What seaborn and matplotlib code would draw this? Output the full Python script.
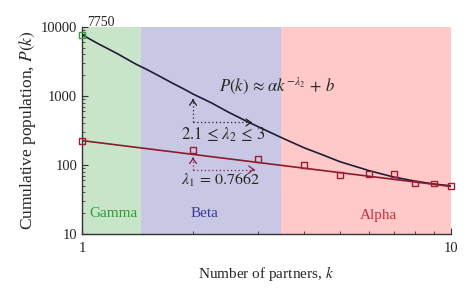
import matplotlib
matplotlib.use("Agg")
import matplotlib.pyplot as plt
import matplotlib.ticker as mticker
import seaborn as sns
import pandas as pd
import numpy as np

# ---- data ----
k_obs = [1, 2, 3, 4, 5, 6, 7, 8, 9, 10]
p_obs = [226, 167, 124, 99, 72, 74, 75, 54, 54, 49]
k_top = [1]
p_top = [7750]
# fitted power-law line (lambda1) endpoints
k_fit1 = [1, 10]
p_fit1 = [226, 49]
# curve P(k) ~ a k^-l2 + b read at points
k_fit2 = [1, 1.05, 1.1, 1.175, 1.25, 1.325, 1.4, 1.5, 1.625, 1.75, 1.875, 2, 2.25, 2.5, 2.75, 3, 3.5, 4, 4.5, 5, 6, 7, 8, 9, 10]
p_fit2 = [7750, 6700, 5820, 4850, 4080, 3420, 2900, 2420, 1930, 1560, 1290, 1070, 790, 580, 450, 360, 245, 178, 140, 112, 83, 67, 58.5, 53, 50]
regions = ["Gamma", "Beta", "Alpha"]
region_bounds = [(1, 1.445), (1.445, 3.46), (3.46, 10)]
region_colors = ["#c9e5c9", "#c8c8e4", "#ffc9c9"]
region_text_colors = ["#2e9a3a", "#3a3a9a", "#c8303f"]

sns.set_style("ticks")
plt.rcParams["font.family"] = ["Liberation Serif", "DejaVu Serif"]
plt.rcParams["mathtext.fontset"] = "stix"

fig = plt.figure(figsize=(4.74, 2.97), dpi=100)
ax = fig.add_axes([0.173, 0.212, 0.778, 0.697])
ax.set_xscale("log")
ax.set_yscale("log")
ax.set_xlim(1, 10)
ax.set_ylim(10, 10000)

for (a, b), c in zip(region_bounds, region_colors):
    ax.axvspan(a, b, color=c, lw=0, zorder=0)

text_pos = [(1.22, 20), (2.15, 20), (6.38, 18.4)]
for name, (x, y), c in zip(regions, text_pos, region_text_colors):
    ax.text(x, y, name, color=c, fontsize=11, ha="center", va="center")

df2 = pd.DataFrame({"k": k_fit2, "P": p_fit2})
sns.lineplot(data=df2, x="k", y="P", ax=ax, color="#1c1c38", lw=1.2, zorder=3)
df1 = pd.DataFrame({"k": k_fit1, "P": p_fit1})
sns.lineplot(data=df1, x="k", y="P", ax=ax, color="#8a1a2c", lw=1.2, zorder=3)

dfo = pd.DataFrame({"k": k_obs, "P": p_obs})
sns.scatterplot(data=dfo, x="k", y="P", ax=ax, marker="s", s=18, facecolor="none",
                edgecolor="#a01c30", linewidth=1.0, zorder=4, clip_on=False)
dft = pd.DataFrame({"k": k_top, "P": p_top})
sns.scatterplot(data=dft, x="k", y="P", ax=ax, marker="s", s=18, facecolor="none",
                edgecolor="#3a9a3a", linewidth=1.0, zorder=4, clip_on=False)

ax.text(1.03, 11500, "7750", fontsize=10, ha="left", va="center", clip_on=False)

# annotations
ax.text(3.38, 1400, r"$P(k)\,\approx\,\alpha k^{-\lambda_2}\,+\,b$", fontsize=12, ha="center", va="center")
ax.text(2.41, 277, r"$2.1\,\leq\,\lambda_2\,\leq\,3$", fontsize=12, ha="center", va="center")
ax.text(2.38, 59, r"$\lambda_1\,=\,0.7662$", fontsize=11.5, ha="center", va="center")

def dotted_arrow(x0, y0, y1, x1, col):
    ax.plot([x0, x0], [y0, y1], ls=(0, (1, 2)), color=col, lw=0.9, zorder=3)
    ax.plot([x0, x1], [y0, y0], ls=(0, (1, 2)), color=col, lw=0.9, zorder=3)
    ax.annotate("", xy=(x0, y1), xytext=(x0, y1 * 0.97),
                arrowprops=dict(arrowstyle="->,head_width=0.25,head_length=0.35", color=col, lw=0.9))
    ax.annotate("", xy=(x1, y0), xytext=(x1 * 0.99, y0),
                arrowprops=dict(arrowstyle="->,head_width=0.25,head_length=0.35", color=col, lw=0.9))

dotted_arrow(2.0, 414, 896, 2.89, "#222222")
dotted_arrow(2.0, 86, 128, 2.94, "#8a1a4a")

ax.xaxis.set_major_locator(mticker.FixedLocator([1, 10]))
ax.xaxis.set_major_formatter(mticker.FixedFormatter(["1", "10"]))
ax.xaxis.set_minor_locator(mticker.LogLocator(base=10, subs=np.arange(2, 10)))
ax.xaxis.set_minor_formatter(mticker.NullFormatter())
ax.yaxis.set_major_locator(mticker.FixedLocator([10, 100, 1000, 10000]))
ax.yaxis.set_major_formatter(mticker.FixedFormatter(["10", "100", "1000", "10000"]))
ax.yaxis.set_minor_locator(mticker.LogLocator(base=10, subs=np.arange(2, 10)))
ax.yaxis.set_minor_formatter(mticker.NullFormatter())
ax.tick_params(which="both", direction="in", color="#333333", labelsize=10.5)
ax.tick_params(which="major", length=4)
ax.tick_params(which="minor", length=2.5)
ax.tick_params(axis="x", pad=6)
for s in ["top", "right"]:
    ax.spines[s].set_visible(False)
for s in ["left", "bottom"]:
    ax.spines[s].set_color("#333333")
    ax.spines[s].set_linewidth(1.0)

ax.set_xlabel("Number of partners, $k$", fontsize=11, labelpad=6)
ax.set_ylabel("Cumulative population, $P(k)$", fontsize=12.5, labelpad=2)

fig.savefig("out.png", dpi=100)
